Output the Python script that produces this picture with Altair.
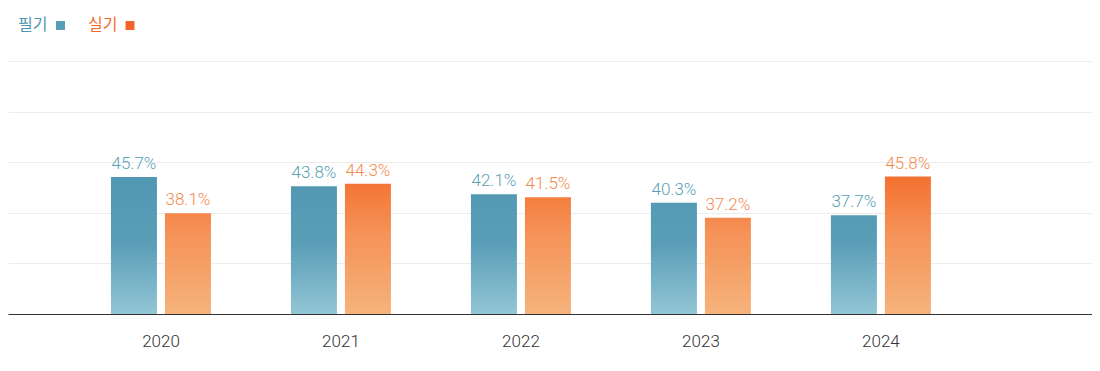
import altair as alt
import pandas as pd

years = ["2020", "2021", "2022", "2023", "2024"]
written = [45.7, 43.8, 42.1, 40.3, 37.7]
practical = [38.1, 44.3, 41.5, 37.2, 45.8]
series = ["필기", "실기"]
grid_values = [27.6, 38.2, 48.8, 59.4, 70.0]

rows = []
for i, yr in enumerate(years):
    rows.append({"year": yr, "series": "필기", "value": written[i], "label": f"{written[i]}%"})
    rows.append({"year": yr, "series": "실기", "value": practical[i], "label": f"{practical[i]}%"})
df = pd.DataFrame(rows)

FONT = "Roboto"
TEAL_TEXT = "#5a9fb6"
ORANGE_TEXT = "#f58a4e"

Y_MIN, Y_MAX, H = 17, 81.15, 306

x_enc = alt.X(
    "year:N",
    scale=alt.Scale(domain=years, paddingInner=0.444, paddingOuter=0.7333, align=0.39),
    axis=alt.Axis(title=None, labelAngle=0, ticks=False, domainColor="#333333", domainWidth=1,
                  labelFontSize=17, labelFontWeight=300, labelColor="#333333", labelPadding=19,
                  labelFont=FONT, grid=False),
)
xo_enc = alt.XOffset("series:N", scale=alt.Scale(domain=series, range=[0, 100], paddingInner=0.148, paddingOuter=0))
y_enc = alt.Y(
    "value:Q",
    scale=alt.Scale(domain=[Y_MIN, Y_MAX], zero=False, nice=False, clamp=True),
    axis=alt.Axis(title=None, labels=False, ticks=False, domain=False, values=grid_values,
                  gridColor="#ececec", gridWidth=1),
)

# colour ramps fixed to the plot's height (plot y pixel -> colour), so taller bars start darker
TEAL_RAMP = [(173, (0x52, 0x98, 0xb3)), (235, (0x5a, 0x9d, 0xb7)), (306, (0x93, 0xc6, 0xd5))]
ORANGE_RAMP = [(173, (0xf4, 0x73, 0x32)), (225, (0xf5, 0x92, 0x58)), (306, (0xf5, 0xb3, 0x7b))]


def color_at(ramp, y):
    if y <= ramp[0][0]:
        c = ramp[0][1]
    elif y >= ramp[-1][0]:
        c = ramp[-1][1]
    else:
        for (y0, c0), (y1, c1) in zip(ramp[:-1], ramp[1:]):
            if y0 <= y <= y1:
                t = (y - y0) / (y1 - y0)
                c = tuple(round(a + (b - a) * t) for a, b in zip(c0, c1))
                break
    return "#%02x%02x%02x" % c


def bar_gradient(ramp, value):
    top = H - (value - Y_MIN) * H / (Y_MAX - Y_MIN)
    stops = [alt.GradientStop(color=color_at(ramp, top), offset=0)]
    for y, _ in ramp:
        if y > top:
            stops.append(alt.GradientStop(color=color_at(ramp, y), offset=(y - top) / (H - top)))
    return alt.Gradient(gradient="linear", x1=0, y1=0, x2=0, y2=1, stops=stops)


base = alt.Chart(df)

layers = []
for i, yr in enumerate(years):
    for name, vals, ramp in (("필기", written, TEAL_RAMP), ("실기", practical, ORANGE_RAMP)):
        layers.append(
            base.transform_filter((alt.datum.series == name) & (alt.datum.year == yr))
            .mark_bar(fill=bar_gradient(ramp, vals[i]))
            .encode(x=x_enc, xOffset=xo_enc, y=y_enc, y2=alt.datum(Y_MIN))
        )


def labels(name, color):
    return base.transform_filter(alt.datum.series == name).mark_text(
        baseline="alphabetic", dy=-8, fontSize=17, font=FONT, fontWeight=300, color=color).encode(
        x=x_enc, xOffset=xo_enc, y=y_enc, text="label:N")


leg_df = pd.DataFrame({"t": ["필기"]})
leg_base = alt.Chart(leg_df)
leg1 = leg_base.mark_text(align="left", baseline="middle", fontSize=16, font="Noto Sans CJK KR",
                          color="#4f98b1", text="필기").encode(x=alt.value(10), y=alt.value(17))
leg1s = leg_base.mark_square(size=80, color="#559db8", opacity=1).encode(x=alt.value(52.5), y=alt.value(17.5))
leg2 = leg_base.mark_text(align="left", baseline="middle", fontSize=16, font="Noto Sans CJK KR",
                          color="#f36c2c", text="실기").encode(x=alt.value(80), y=alt.value(17))
leg2s = leg_base.mark_square(size=80, color="#f4642a", opacity=1).encode(x=alt.value(122), y=alt.value(17.5))

chart = alt.layer(
    *layers,
    labels("필기", TEAL_TEXT), labels("실기", ORANGE_TEXT),
    leg1, leg1s, leg2, leg2s,
).properties(width=1084, height=H, background="white",
             padding={"left": 0, "right": 0, "top": 0, "bottom": 0}
).configure_view(strokeWidth=0, stroke="transparent")

chart.save("out.html", embed_options={"renderer": "svg", "actions": False})
